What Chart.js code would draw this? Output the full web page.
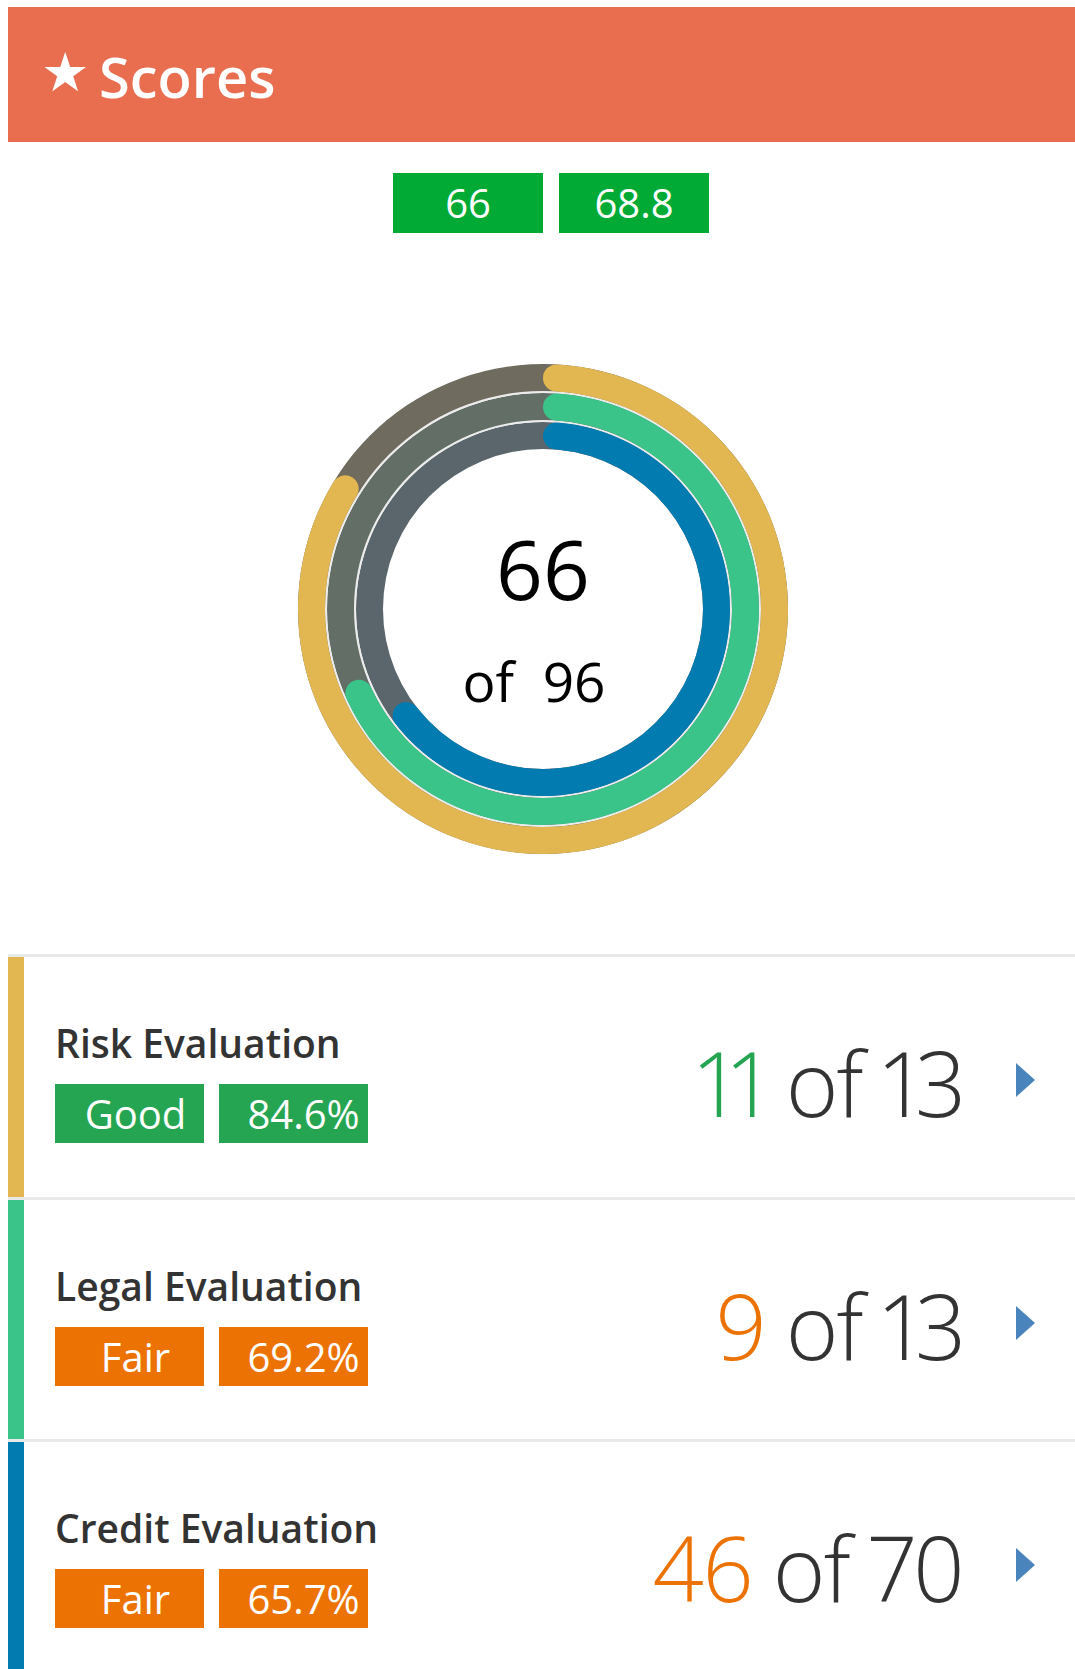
<!DOCTYPE html>
<html>
<head>
<meta charset="utf-8">
<title>Scores</title>
<script src="https://cdn.jsdelivr.net/npm/chart.js@4.4.1/dist/chart.umd.min.js"></script>
<style>
  html, body { margin: 0; padding: 0; background: #fff; }
  body {
    position: relative;
    width: 1075px;
    height: 1669px;
    overflow: hidden;
    font-family: 'Open Sans', 'Noto Sans', sans-serif;
  }
  .panel-heading {
    position: absolute;
    left: 8px; top: 7px;
    width: 1067px; height: 135px;
    background: #e96e50;
    color: #fff;
  }
  .panel-heading .star {
    position: absolute;
    left: 33px; top: 39px;
    font-family: 'DejaVu Sans', sans-serif;
    font-size: 54px;
    line-height: 1;
  }
  .panel-heading .title {
    position: absolute;
    left: 91px; top: 41px;
    font-size: 56px;
    font-weight: 600;
    line-height: 1;
  }
  .badge {
    position: absolute;
    width: 150px; height: 60px;
    line-height: 60px;
    text-align: center;
    color: #fff;
    font-size: 40px;
    box-sizing: border-box;
  }
  .total-badge { top: 173px; background: #00aa35; }
  #donut {
    position: absolute;
    left: 298px; top: 364px;
    width: 490px; height: 490px;
  }
  #donut canvas { position: absolute; left: 0; top: 0; }
  .donut-value, .donut-max {
    position: absolute;
    left: 0; width: 100%;
    text-align: center;
    color: #000;
    line-height: 1;
    white-space: pre;
  }
  .donut-value { top: 163px; font-size: 82px; }
  .donut-max { top: 289px; font-size: 55px; left: -9px; }
  .row {
    position: absolute;
    left: 8px;
    width: 1067px; height: 240px;
    border-top: 3px solid #e9e9e9;
  }
  .row .bar { position: absolute; left: 0; top: 0; width: 16px; height: 100%; }
  .row .name {
    position: absolute;
    left: 47px; top: 66px;
    font-size: 39px; font-weight: 600;
    line-height: 1;
    color: #333;
  }
  .row .badge { top: 127px; width: 149px; height: 59px; line-height: 59px; }
  .row .rating { padding-left: 12px; }
  .row .percent { padding-left: 20px; }
  .row .score {
    position: absolute;
    right: 112px; top: 80px;
    font-size: 90px; font-weight: 300;
    font-variant-numeric: proportional-nums;
    line-height: 1;
    letter-spacing: -2px;
    color: #333;
    white-space: pre;
  }
  .row .arrow {
    position: absolute;
    left: 1008px; top: 106px;
    width: 0; height: 0;
    border-left: 19px solid #4a84bd;
    border-top: 17px solid transparent;
    border-bottom: 17px solid transparent;
  }
</style>
</head>
<body>

<div class="panel-heading"><span class="star">★</span><span class="title">Scores</span></div>

<div class="badge total-badge" id="total-score" style="left: 393px;"></div>
<div class="badge total-badge" id="total-percent" style="left: 559px;"></div>

<div id="donut">
  <canvas id="track-chart" width="490" height="490"></canvas>
  <canvas id="score-chart" width="490" height="490"></canvas>
  <div class="donut-value" id="donut-value"></div>
  <div class="donut-max" id="donut-max"></div>
</div>

<div id="rows"></div>

<script>
'use strict';

var categories = ['Risk Evaluation', 'Legal Evaluation', 'Credit Evaluation'];
var scores = [11, 9, 46];
var maxScores = [13, 13, 70];
var ratings = ['Good', 'Fair', 'Fair'];

var ringColors = ['#e2b650', '#3bc48a', '#027bb0'];
var trackColors = ['#6f6b5e', '#636e67', '#5a666c'];
var ratingColors = { Good: '#25a452', Fair: '#ec7303' };
var gapColor = '#ececec';

(function () {

  var sum = function (list) {
    return list.reduce(function (a, b) { return a + b; }, 0);
  };

  var totalScore = sum(scores);
  var totalMax = sum(maxScores);

  document.getElementById('total-score').textContent = totalScore;
  document.getElementById('total-percent').textContent = (totalScore / totalMax * 100).toFixed(1);
  document.getElementById('donut-value').textContent = totalScore;
  document.getElementById('donut-max').textContent = 'of  ' + totalMax;

  // one ring per category, outermost first, with a thin spacer ring in between
  var buildDatasets = function (isTrack) {
    var datasets = [];

    for (var i = 0; i < categories.length; i++) {
      if (i > 0) {
        datasets.push({
          data: [1],
          backgroundColor: isTrack ? gapColor : 'rgba(0,0,0,0)',
          weight: 2
        });
      }
      datasets.push({
        label: categories[i],
        data: isTrack ? [maxScores[i]] : [scores[i], maxScores[i] - scores[i]],
        backgroundColor: isTrack ? trackColors[i] : [ringColors[i], 'rgba(0,0,0,0)'],
        borderRadius: isTrack ? 0 : function (ctx) {
          return ctx.dataIndex === 0 ? 20 : 0;
        },
        weight: 27
      });
    }
    return datasets;
  };

  var drawRings = function (id, isTrack) {
    var ctx = document.getElementById(id).getContext('2d');
    return new Chart(ctx, {
      type: 'doughnut',
      data: {
        datasets: buildDatasets(isTrack)
      },
      options: {
        responsive: false,
        animation: false,
        events: [],
        cutout: 160,
        elements: {
          arc: { borderWidth: 0, hoverBorderWidth: 0, offset: 0, hoverOffset: 0 }
        },
        plugins: {
          legend: { display: false },
          tooltip: { enabled: false }
        }
      }
    });
  };

  // grey tracks underneath, score arcs on top
  drawRings('track-chart', true);
  drawRings('score-chart', false);

  // category rows under the chart
  var rowsDiv = document.getElementById('rows');

  for (var i = 0; i < categories.length; i++) {
    var color = ratingColors[ratings[i]];
    var row = document.createElement('div');
    row.className = 'row';
    row.style.top = Math.round(954 + i * 242.5) + 'px';

    row.innerHTML =
      '<div class="bar" style="background:' + ringColors[i] + '"></div>' +
      '<div class="name">' + categories[i] + '</div>' +
      '<div class="badge rating" style="left:47px;background:' + color + '">' + ratings[i] + '</div>' +
      '<div class="badge percent" style="left:211px;background:' + color + '">' +
        (scores[i] / maxScores[i] * 100).toFixed(1) + '%</div>' +
      '<div class="score"><span style="color:' + color + '">' + scores[i] + '</span> of ' +
        maxScores[i] + '</div>' +
      '<div class="arrow"></div>';

    rowsDiv.appendChild(row);
  }

})();
</script>
</body>
</html>
